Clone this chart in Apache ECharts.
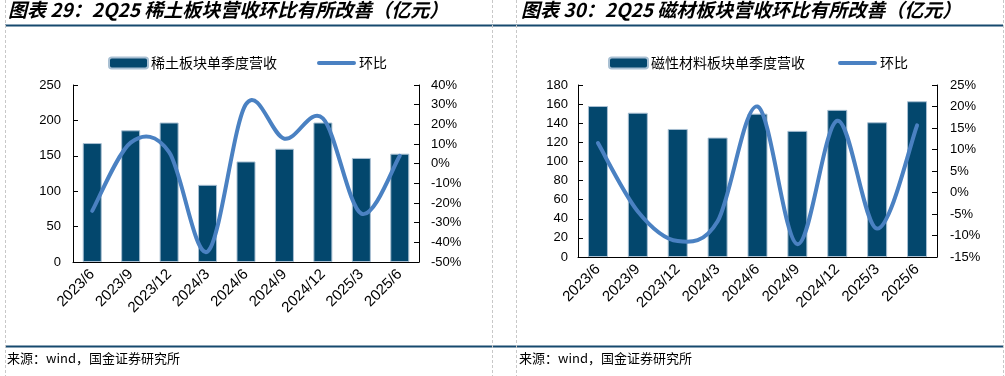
<!DOCTYPE html>
<html><head><meta charset="utf-8">
<script src="https://cdn.jsdelivr.net/npm/echarts@6/dist/echarts.min.js"></script>
<style>html,body{margin:0;padding:0;background:#fff}#c{width:1005px;height:376px}</style>
</head><body><div id="c"></div>
<script>
const categories = ['2023/6','2023/9','2023/12','2024/3','2024/6','2024/9','2024/12','2025/3','2025/6'];
const rareEarthRevenue = [168, 186, 197, 109, 142, 160, 197, 147, 153];
const rareEarthQoQ = [-24, 10.7, 5.9, -44.7, 30.3, 12.7, 23, -25.4, 4];
const magnetRevenue = [158, 151, 134, 125, 150, 132, 154, 141, 163];
const magnetQoQ = [11.5, -4.4, -11.3, -6.7, 20, -12, 16.7, -8.4, 15.6];
const leftTicks = {min:0, max:250, interval:50};
const leftPct = {min:-50, max:40, interval:10};
const rightTicks = {min:0, max:180, interval:20};
const rightPct = {min:-15, max:25, interval:5};

const BAR = '#03476d', LINE = '#4a81c2', RULE = '#16496e';
const axisFont = {fontFamily:'Liberation Sans, Arial', fontSize:13, color:'#000'};
const LINE_ICON = 'path://M2,0 L38,0 A2,2 0 0 1 38,4 L2,4 A2,2 0 0 1 2,0 Z';
const chart = echarts.init(document.getElementById('c'));

// Excel-style smoothed line (Catmull-Rom as cubic Bezier), positions via the library's axes (api.coord)
function smoothRender(values){
  return function(params, api){
    if (params.dataIndex !== 0) return null;
    const P = values.map((v,i)=>api.coord([i, v]));
    const n = P.length;
    let d = 'M' + P[0][0] + ' ' + P[0][1];
    for (let i = 0; i < n - 1; i++){
      const p0 = P[Math.max(i-1,0)], p1 = P[i], p2 = P[i+1], p3 = P[Math.min(i+2,n-1)];
      const c1x = p1[0] + (p2[0]-p0[0])/6, c1y = p1[1] + (p2[1]-p0[1])/6;
      const c2x = p2[0] - (p3[0]-p1[0])/6, c2y = p2[1] - (p3[1]-p1[1])/6;
      d += ' C' + c1x + ' ' + c1y + ' ' + c2x + ' ' + c2y + ' ' + p2[0] + ' ' + p2[1];
    }
    return {type:'path', shape:{pathData:d},
      style:{fill:null, stroke:LINE, lineWidth:4, lineCap:'round', lineJoin:'round'}};
  };
}

function xAx(gi){
  return {type:'category', gridIndex:gi, data:categories, boundaryGap:true,
    axisLine:{lineStyle:{color:'#000', width:1}},
    axisTick:{inside:true, length:5, lineStyle:{color:'#000'}},
    axisLabel:{rotate:45, margin:10, interval:0, fontFamily:'Liberation Sans, Arial', fontSize:15, color:'#000'}};
}
function yAx(gi, t, pos, fmt, margin){
  return {type:'value', gridIndex:gi, position:pos, min:t.min, max:t.max, interval:t.interval,
    splitLine:{show:false},
    axisLine:{show:true, lineStyle:{color:'#000', width:1}},
    axisTick:{show:true, inside:true, length:5, lineStyle:{color:'#000'}},
    axisLabel:Object.assign({margin:margin, formatter:fmt}, axisFont)};
}
const pct = v => v + '%';
const titleStyle = {fontFamily:'Noto Sans CJK SC', fontSize:19, fontStyle:'italic', fontWeight:'bold', color:'#000'};
const srcStyle = {fontFamily:'Noto Sans CJK SC', fontSize:13, fontWeight:'normal', color:'#000'};
const legendText = {fontFamily:'Noto Sans CJK SC', fontSize:14, color:'#000', padding:[0,0,0,-2]};

chart.setOption({
  animation:false,
  title:[
    {text:'图表 29：2Q25 稀土板块营收环比有所改善（亿元）', left:8, top:0, padding:0, textStyle:titleStyle},
    {text:'图表 30：2Q25 磁材板块营收环比有所改善（亿元）', left:521, top:0, padding:0, textStyle:titleStyle},
    {text:'来源：wind，国金证券研究所', left:7, top:352, padding:0, textStyle:srcStyle},
    {text:'来源：wind，国金证券研究所', left:519, top:352, padding:0, textStyle:srcStyle}
  ],
  legend:[
    {data:[{name:'稀土板块单季度营收'},{name:'环比', icon:LINE_ICON}], left:108, top:56, padding:0,
     itemWidth:39, itemHeight:11, itemGap:40, textStyle:legendText},
    {data:[{name:'磁性材料板块单季度营收'},{name:'环比 ', icon:LINE_ICON}], left:608, top:56, padding:0,
     itemWidth:39, itemHeight:11, itemGap:33, textStyle:legendText}
  ],
  grid:[
    {left:73, right:586, top:85, bottom:114},
    {left:578, right:68, top:85, bottom:119}
  ],
  xAxis:[xAx(0), xAx(1)],
  yAxis:[
    yAx(0, leftTicks, 'left', null, 12),
    yAx(0, leftPct, 'right', pct, 12),
    yAx(1, rightTicks, 'left', null, 10),
    yAx(1, rightPct, 'right', pct, 13)
  ],
  series:[
    {name:'稀土板块单季度营收', type:'bar', xAxisIndex:0, yAxisIndex:0, data:rareEarthRevenue, barWidth:19,
     itemStyle:{color:BAR, borderColor:'#a9c0d3', borderWidth:1}},
    {name:'环比', type:'custom', xAxisIndex:0, yAxisIndex:1, clip:false,
     data:rareEarthQoQ.map((v,i)=>[i,v]), encode:{x:0, y:1},
     renderItem:smoothRender(rareEarthQoQ), itemStyle:{color:LINE}, z:3},
    {name:'磁性材料板块单季度营收', type:'bar', xAxisIndex:1, yAxisIndex:2, data:magnetRevenue, barWidth:20,
     itemStyle:{color:BAR, borderColor:'#a9c0d3', borderWidth:1}},
    {name:'环比 ', type:'custom', xAxisIndex:1, yAxisIndex:3, clip:false,
     data:magnetQoQ.map((v,i)=>[i,v]), encode:{x:0, y:1},
     renderItem:smoothRender(magnetQoQ), itemStyle:{color:LINE}, z:3}
  ],
  graphic:[
    {type:'line', shape:{x1:5, y1:25.5, x2:1003, y2:25.5}, style:{stroke:RULE, lineWidth:2}},
    {type:'line', shape:{x1:5, y1:346.5, x2:1003, y2:346.5}, style:{stroke:RULE, lineWidth:2}},
    {type:'line', shape:{x1:5.5, y1:0, x2:5.5, y2:376}, style:{stroke:'#c8c8c8', lineWidth:1, lineDash:[3,2]}},
    {type:'line', shape:{x1:492.5, y1:0, x2:492.5, y2:376}, style:{stroke:'#c8c8c8', lineWidth:1, lineDash:[3,2]}},
    {type:'line', shape:{x1:516.5, y1:0, x2:516.5, y2:376}, style:{stroke:'#c8c8c8', lineWidth:1, lineDash:[3,2]}},
    {type:'line', shape:{x1:1003.5, y1:0, x2:1003.5, y2:376}, style:{stroke:'#c8c8c8', lineWidth:1, lineDash:[3,2]}}
  ]
});
</script></body></html>
